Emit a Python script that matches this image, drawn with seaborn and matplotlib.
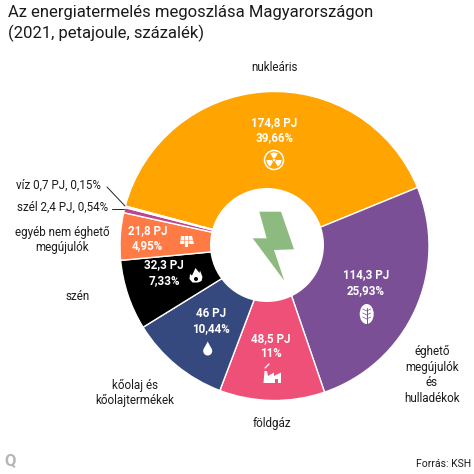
import matplotlib
matplotlib.use("Agg")
import matplotlib.pyplot as plt
from matplotlib.patches import Circle, Ellipse, Polygon, Rectangle, Wedge
import seaborn as sns

# Energy production in Hungary, 2021
sources = ["nukleáris", "éghető megújulók és hulladékok", "földgáz",
           "kőolaj és kőolajtermékek", "szén", "egyéb nem éghető megújulók",
           "szél", "víz"]
petajoule = [174.8, 114.3, 48.5, 46, 32.3, 21.8, 2.4, 0.7]
pj_labels = ["174,8 PJ", "114,3 PJ", "48,5 PJ", "46 PJ", "32,3 PJ", "21,8 PJ"]
pct_labels = ["39,66%", "25,93%", "11%", "10,44%", "7,33%", "4,95%"]
slice_colors = ["#FFA400", "#7B4F96", "#EE5077", "#36497F", "#000000",
                "#FF7A45", "#B8478F", "#E0559A"]

sns.set_theme(style="white")
plt.rcParams["font.family"] = ["Roboto", "DejaVu Sans"]

W = 474
fig = plt.figure(figsize=(W / 100, W / 100), dpi=100, facecolor="white")

# Pie centred on (274.5, 246) px with a 154.5 px radius
cx, cy, r = 274.5, 246, 154.5
ax = fig.add_axes([(cx - r) / W, 1 - (cy + r) / W, 2 * r / W, 2 * r / W])
ax.pie(petajoule, startangle=165, counterclock=False,
       colors=sns.color_palette(slice_colors), radius=1,
       wedgeprops=dict(edgecolor="white", linewidth=1.0))
ax.set(xlim=(-1, 1), ylim=(-1, 1))
ax.set_aspect("equal")

# Overlay in pixel coordinates for the hole, icons and texts
ov = fig.add_axes([0, 0, 1, 1], facecolor="none")
ov.set_xlim(0, W)
ov.set_ylim(W, 0)
ov.axis("off")

ov.add_patch(Circle((267, 245), 57, fc="white", ec="none"))
ov.add_patch(Polygon([(259.3, 211.7), (281, 211.7), (294, 249.3), (274, 250),
                      (284.3, 280.7), (252.7, 238.3), (266.7, 238.3)],
                     fc="#8DBB7F", ec="none"))

ink = "#1a1a1a"
ov.text(8, 12, "Az energiatermelés megoszlása Magyarországon", fontsize=12.0,
        color=ink, va="center")
ov.text(8, 33, "(2021, petajoule, százalék)", fontsize=12.0, color=ink, va="center")

outer = dict(fontsize=8.4, color=ink, va="center", linespacing=1.25)
ov.text(275, 67, "nukleáris", ha="center", **outer)
ov.text(101, 185, "víz 0,7 PJ, 0,15%", ha="right", **outer)
ov.text(108, 207, "szél 2,4 PJ, 0,54%", ha="right", **outer)
ov.text(62, 240, "egyéb nem éghető\nmegújulók", ha="center", **outer)
ov.text(78, 296, "szén", ha="center", **outer)
ov.text(135, 393, "kőolaj és\nkőolajtermékek", ha="center", **outer)
ov.text(272, 424, "földgáz", ha="center", **outer)
ov.text(432, 375, "éghető\nmegújulók\nés\nhulladékok", ha="center", **outer)
ov.text(471, 464, "Forrás: KSH", ha="right", fontsize=7.5, color=ink, va="center")
ov.text(4, 461, "Q", fontsize=12, fontweight="bold", color="#B5B5B5", va="center")

ov.plot([107, 125], [187, 206], color="#222222", lw=0.7)
ov.plot([112, 124], [208.5, 208.5], color="#222222", lw=0.7)

# Value labels on the large slices
label_pos = [(274.5, 130), (366, 282.5), (271, 346), (211, 321), (164, 272.5), (147.3, 238)]
for (x, y), pj, pct in zip(label_pos, pj_labels, pct_labels):
    ov.text(x, y, pj + "\n" + pct, ha="center", va="center", color="white",
            fontsize=8.4, fontweight="bold", linespacing=1.25)

# Radiation symbol
ov.add_patch(Circle((274, 160), 9.5, fc="none", ec="white", lw=1.1))
for a in (30, 150, 270):
    ov.add_patch(Wedge((274, 160), 7.5, a - 30, a + 30, width=5.5, fc="white", ec="none"))
ov.add_patch(Circle((274, 160), 1.3, fc="white", ec="none"))

# Leaf
ov.add_patch(Ellipse((366.7, 314), 14, 20, fc="white", ec="none"))
ov.plot([366.7, 366.7], [308, 324], color="#7B4F96", lw=0.7)
for y0 in (311, 315, 319):
    ov.plot([362.7, 366.7, 370.7], [y0 - 2, y0, y0 - 2], color="#7B4F96", lw=0.5)

# Oil drop
ov.add_patch(Circle((207.7, 351), 4.5, fc="white", ec="none"))
ov.add_patch(Polygon([(207.7, 341.5), (203.7, 349), (211.7, 349)], fc="white", ec="none"))

# Factory
ov.add_patch(Polygon([(263.5, 383), (264.5, 371), (267, 371), (268, 376), (274, 372.5),
                      (274, 376), (281, 372.5), (281, 383), (278, 383), (278, 379),
                      (275, 379), (275, 383)], fc="white", ec="none"))
ov.plot([265, 269], [368, 364], color="white", lw=0.9)

# Flame
ov.add_patch(Polygon([(195.5, 268), (199.5, 273), (200, 270.5), (202.5, 277), (201.5, 281),
                      (198, 282.5), (192.5, 282.5), (189.5, 279), (190, 274), (192, 275.5)],
                     fc="white", ec="none"))
ov.add_patch(Circle((196, 279), 2, fc="black", ec="none"))

# Solar panel
ov.add_patch(Polygon([(181, 236), (192, 236), (194, 244), (180, 244)], fc="white", ec="none"))
for x0, x1 in ((184.8, 184.4), (188.4, 188.9)):
    ov.plot([x0, x1], [236, 244], color="#FF7A45", lw=0.4)
ov.plot([180, 194], [240, 240], color="#FF7A45", lw=0.4)
ov.add_patch(Rectangle((185.5, 244), 2.5, 2.5, fc="white", ec="none"))

fig.savefig("out.png", dpi=100, facecolor="white")
